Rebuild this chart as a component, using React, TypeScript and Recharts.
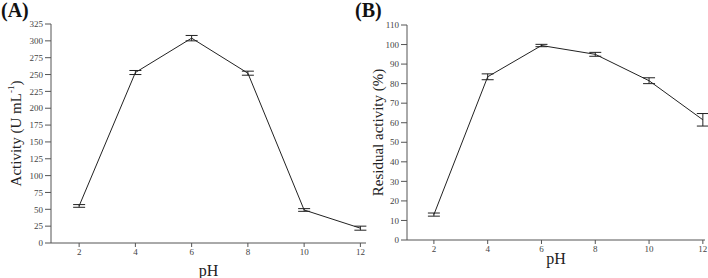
import { LineChart, Line, XAxis, YAxis, ErrorBar, Label } from 'recharts';

const phValues = [2, 4, 6, 8, 10, 12];
const activity = [55, 253, 304, 252, 49, 22];
const activityErr = [2, 3, 4, 3, 2, 3];
const residual = [13, 83.5, 99.5, 95, 81.5, 61.5];
const residualErr = [0.8, 1.5, 0.6, 1, 1.5, 3.2];

const majorX = [2, 4, 6, 8, 10, 12];
const minorX = [3, 5, 7, 9, 11];
const ticksA = [0, 25, 50, 75, 100, 125, 150, 175, 200, 225, 250, 275, 300, 325];
const minorA = ticksA.slice(0, -1).map((t) => t + 12.5);
const ticksB = [0, 10, 20, 30, 40, 50, 60, 70, 80, 90, 100, 110];
const minorB = ticksB.slice(0, -1).map((t) => t + 5);

const dataA = phValues.map((ph, i) => ({ ph, v: activity[i], err: activityErr[i] }));
const dataB = phValues.map((ph, i) => ({ ph, v: residual[i], err: residualErr[i] }));

const FONT = '"Liberation Serif", "Times New Roman", serif';
const AXIS = '#555';
const INK = '#222';
const tickStyle = { fontSize: 9, fill: '#444', fontFamily: FONT };

function YTitle({ viewBox, dx, sup, text }: any) {
  const x = viewBox.x + dx;
  const y = viewBox.y + viewBox.height / 2;
  return (
    <text
      x={x}
      y={y}
      transform={`rotate(-90, ${x}, ${y})`}
      textAnchor="middle"
      dominantBaseline="central"
      fontSize={15}
      fontFamily={FONT}
      fill={INK}
    >
      {text}
      {sup && (
        <>
          <tspan dy={-5} fontSize={9}>{sup}</tspan>
          <tspan dy={5}>)</tspan>
        </>
      )}
    </text>
  );
}

function Panel({ data, domainX, domainY, ticksY, minorY, title, sup, width, margin, yWidth, dxTitle, pHy }: any) {
  return (
    <LineChart width={width} height={278} data={data} margin={margin}>
      <XAxis
        xAxisId="main"
        dataKey="ph"
        type="number"
        domain={domainX}
        ticks={majorX}
        allowDataOverflow
        tick={tickStyle}
        tickSize={4}
        stroke={AXIS}
        height={20}
      >
        <Label
          value="pH"
          position="bottom"
          offset={pHy}
          style={{ fontSize: 16, fontFamily: FONT, fill: INK }}
        />
      </XAxis>
      <XAxis
        xAxisId="minor"
        dataKey="ph"
        type="number"
        domain={domainX}
        ticks={minorX}
        allowDataOverflow
        axisLine={false}
        mirror
        tickSize={3}
        tickFormatter={() => ''}
        stroke={AXIS}
        height={0}
      />
      <YAxis
        yAxisId="main"
        type="number"
        domain={domainY}
        ticks={ticksY}
        interval={0}
        tick={tickStyle}
        tickSize={6}
        stroke={AXIS}
        width={yWidth}
      >
        <Label content={(p: any) => <YTitle {...p} dx={dxTitle} text={title} sup={sup} />} />
      </YAxis>
      <YAxis
        yAxisId="minor"
        type="number"
        domain={domainY}
        ticks={minorY}
        interval={0}
        axisLine={false}
        mirror
        tickSize={3}
        tickFormatter={() => ''}
        stroke={AXIS}
        width={0}
      />
      <Line
        xAxisId="main"
        yAxisId="main"
        type="linear"
        dataKey="v"
        stroke={INK}
        strokeWidth={1}
        dot={false}
        isAnimationActive={false}
      >
        <ErrorBar dataKey="err" width={6} stroke={INK} strokeWidth={1} direction="y" />
      </Line>
    </LineChart>
  );
}

export default function App() {
  return (
    <div style={{ position: 'absolute', left: 0, top: 0, width: 708, height: 278, background: '#fff', fontFamily: FONT }}>
      <div style={{ position: 'absolute', left: 0, top: 0 }}>
        <Panel
          data={dataA}
          domainX={[1, 12.2]}
          domainY={[0, 325]}
          ticksY={ticksA}
          minorY={minorA}
          title="Activity (U mL"
          sup="-1"
          width={380}
          margin={{ top: 24, right: 14, bottom: 15, left: 0 }}
          yWidth={51}
          dxTitle={16}
          pHy={2}
        />
      </div>
      <div style={{ position: 'absolute', left: 360, top: 0 }}>
        <Panel
          data={dataB}
          domainX={[1, 12.08]}
          domainY={[0, 110]}
          ticksY={ticksB}
          minorY={minorB}
          title="Residual activity (%)"
          width={348}
          margin={{ top: 25, right: 3, bottom: 18, left: 0 }}
          yWidth={47}
          dxTitle={18}
          pHy={-7}
        />
      </div>
      <div style={{ position: 'absolute', left: 1, top: -1, fontSize: 20, fontWeight: 'bold', color: '#111' }}>(A)</div>
      <div style={{ position: 'absolute', left: 355, top: -1, fontSize: 20, fontWeight: 'bold', color: '#111' }}>(B)</div>
    </div>
  );
}
